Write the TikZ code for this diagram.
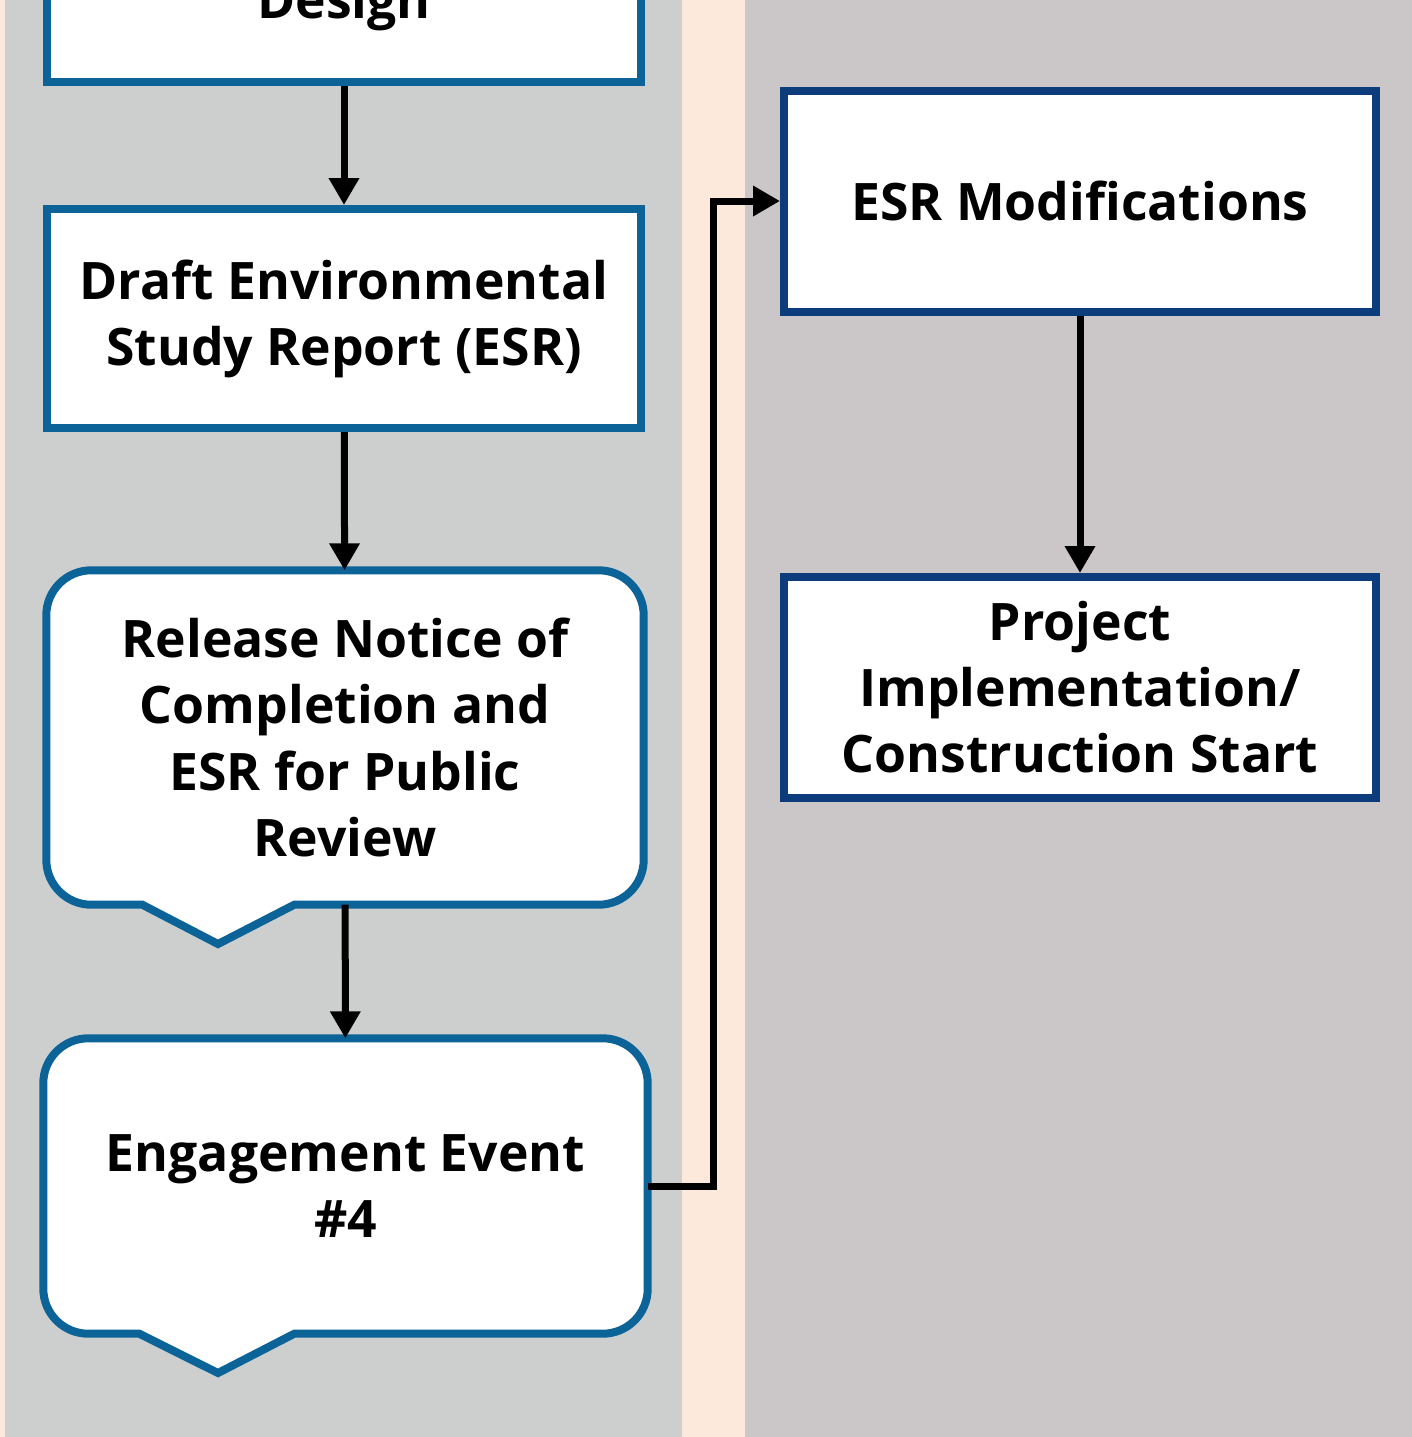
\documentclass[tikz,border=0pt]{standalone}
\usepackage{fontspec}
\setmainfont{Open Sans}
\usepackage{tikz}
\usetikzlibrary{positioning,arrows.meta,calc}

\definecolor{leftpanel}{HTML}{CDCFCF}
\definecolor{rightpanel}{HTML}{CBC7C8}
\definecolor{peach}{HTML}{FDE9DC}
\definecolor{steelblue}{HTML}{0B6398}
\definecolor{navyblue}{HTML}{0C3C7C}

\begin{document}
\begin{tikzpicture}[
      font=\fontsize{14.7}{18.8}\selectfont\bfseries,
      box/.style={draw=steelblue, line width=0.08cm, fill=white, align=center, inner sep=0pt},
      navybox/.style={box, draw=navyblue, minimum width=5.92cm, minimum height=2.21cm},
      callout/.style={draw=steelblue, line width=0.08cm, fill=white},
      arrow/.style={-{Triangle[length=0.27cm,width=0.29cm]}, line width=0.07cm},
    ]
      \useasboundingbox (0,0) rectangle (14.12,-14.37);
      % lanes
      \fill[peach] (0,0) rectangle (14.12,-14.37);
      \fill[leftpanel] (0.05,0) rectangle (6.82,-14.37);
      \fill[rightpanel] (7.45,0) rectangle (14.12,-14.37);

      % left lane
      \node[box, anchor=south, minimum width=5.94cm, text height=1.6cm, text depth=0.54cm, inner ysep=0.1cm] (design) at (3.44,-0.86) {Design};
      \node[box, minimum width=5.94cm, minimum height=2.19cm] (draft) at (3.44,-3.185) {Draft Environmental\\Study Report (ESR)};
      \node[minimum width=5.96cm, minimum height=3.33cm, inner sep=0pt] (notice) at (3.45,-7.375) {};
      \node[minimum width=6.03cm, minimum height=2.94cm, inner sep=0pt] (event) at (3.455,-11.86) {};
      \draw[callout] (notice.east) [rounded corners=0.45cm] -- (notice.north east) -- (notice.north west)
        -- (notice.south west) [sharp corners] -- ($(notice.south west)+(0.96,0)$) -- (2.18,-9.44)
        -- ($(notice.south west)+(2.48,0)$) [rounded corners=0.45cm] -- (notice.south east) -- cycle;
      \draw[callout] (event.east) [rounded corners=0.45cm] -- (event.north east) -- (event.north west)
        -- (event.south west) [sharp corners] -- ($(event.south west)+(0.96,0)$) -- (2.18,-13.73)
        -- ($(event.south west)+(2.51,0)$) [rounded corners=0.45cm] -- (event.south east) -- cycle;
      \node[align=center] at (notice.center) {Release Notice of\\Completion and\\ESR for Public\\Review};
      \node[align=center] at (event.center) {Engagement Event\\\#4};

      % right lane
      \node[navybox] (esrmod) at (10.80,-2.01) {ESR Modifications};
      \node[navybox] (project) at (10.80,-6.875) {Project\\Implementation/\\Construction Start};

      % connectors
      \draw[arrow] (design) -- (draft);
      \draw[arrow] (draft) -- (notice);
      \draw[arrow] (notice) -- (event);
      \draw[arrow] (event.east) -- ++(0.66,0) |- (esrmod.west);
      \draw[arrow] (esrmod) -- (project);
    \end{tikzpicture}
\end{document}
